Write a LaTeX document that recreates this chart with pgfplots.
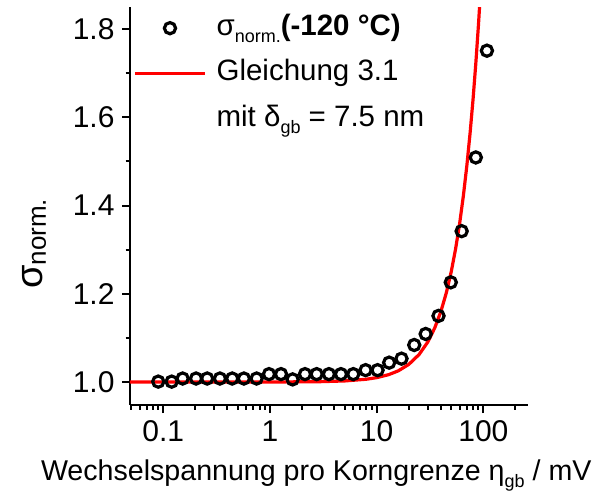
\documentclass[border=0pt]{standalone}
\usepackage{fontspec}
\setmainfont{Liberation Sans}
\usepackage{pgfplots}
\pgfplotsset{compat=1.18}
\newcommand{\sub}[1]{\raisebox{-7pt}{\fontsize{18}{20}\selectfont #1}}
\newcommand{\bigf}{\fontsize{29.5}{34}\selectfont}
\pgfplotsset{
  mylegmark/.style={legend image code/.code={\draw[##1] plot[only marks] coordinates {(35pt,0pt)};}},
  myleglin/.style={legend image code/.code={\draw[##1] (0pt,0pt) -- (70pt,0pt);}},
}
\begin{document}
\begin{tikzpicture}
\useasboundingbox (-130pt,-96pt) rectangle (465pt,405pt);
\begin{axis}[
  at={(0pt,0pt)}, anchor=south west,
  scale only axis, width=398pt, height=398pt,
  xmode=log, xmin=0.0488, xmax=262,
  ymin=0.948, ymax=1.85,
  axis x line*=bottom, axis y line*=left,
  axis line style={line width=2pt, -},
  every tick/.style={black, line width=2pt},
  tick align=outside,
  major tick length=8pt, minor tick length=4.5pt,
  xtick={0.1,1,10,100}, xticklabels={0.1,1,10,100},
  minor xtick={0.05,0.06,0.07,0.08,0.09,0.2,0.3,0.4,0.5,0.6,0.7,0.8,0.9,2,3,4,5,6,7,8,9,20,30,40,50,60,70,80,90,200},
  ytick={1.0,1.2,1.4,1.6,1.8}, yticklabels={1.0,1.2,1.4,1.6,1.8},
  minor ytick={1.1,1.3,1.5,1.7},
  /pgf/number format/assume math mode=true,
  tick label style={font=\fontsize{30}{34}\selectfont},
  yticklabel style={xshift=-4pt},
  xticklabel style={yshift=-4pt},
  xlabel={Wechselspannung pro Korngrenze η\sub{gb} / mV},
  ylabel={{\fontsize{38}{42}\selectfont σ}\raisebox{-3pt}{\fontsize{26}{28}\selectfont norm.}},
  xlabel style={font=\fontsize{28.6}{34}\selectfont, at={(rel axis cs:0.468,-0.19)}, anchor=base},
  ylabel style={at={(rel axis cs:-0.2186,0.405)}, anchor=base, rotate=0},
  legend cell align=left,
  legend style={draw=none, fill=none, font=\bigf, at={(rel axis cs:0.008,0.99)}, anchor=north west,
    inner sep=0pt, row sep=11.5pt, column sep=10pt,
    nodes={inner sep=0pt, text height=24pt, text depth=10pt}},
]
\addplot[only marks, mark=o, mark size=5.6pt, line width=3.2pt, black, mylegmark]
coordinates {
(0.0898,1.001) (0.120,1.001) (0.152,1.008) (0.203,1.008) (0.258,1.008)
(0.340,1.008) (0.443,1.008) (0.570,1.008) (0.750,1.008) (0.98,1.018)
(1.27,1.018) (1.63,1.006) (2.13,1.018) (2.74,1.018) (3.57,1.018)
(4.63,1.018) (6.04,1.018) (7.88,1.027) (10.2,1.027) (13.1,1.044)
(17.1,1.053) (22.5,1.084) (28.8,1.109) (38.0,1.150) (49.5,1.226)
(62.6,1.342) (85.0,1.509) (108,1.751)
};
\addlegendentry{σ\sub{norm.}\textbf{(-120 °C)}}
\addplot[red, line width=3.2pt, myleglin]
coordinates {
(0.0488,1.0000) (0.3,1.0000) (1,1.0001) (3,1.0009) (5,1.0025) (8,1.0064)
(10,1.0100) (13,1.0169) (16,1.0256) (20,1.0400) (25,1.0625) (30,1.0900)
(35,1.1225) (40,1.1600) (45,1.2025) (50,1.2500) (55,1.3025) (60,1.3600)
(65,1.4225) (70,1.4900) (75,1.5625) (80,1.6400) (85,1.7225) (90,1.8100)
(95,1.9025)
};
\addlegendentry{Gleichung 3.1}
\addlegendimage{empty legend}
\addlegendentry{mit δ\sub{gb} = 7.5 nm}
\end{axis}
\end{tikzpicture}
\end{document}
